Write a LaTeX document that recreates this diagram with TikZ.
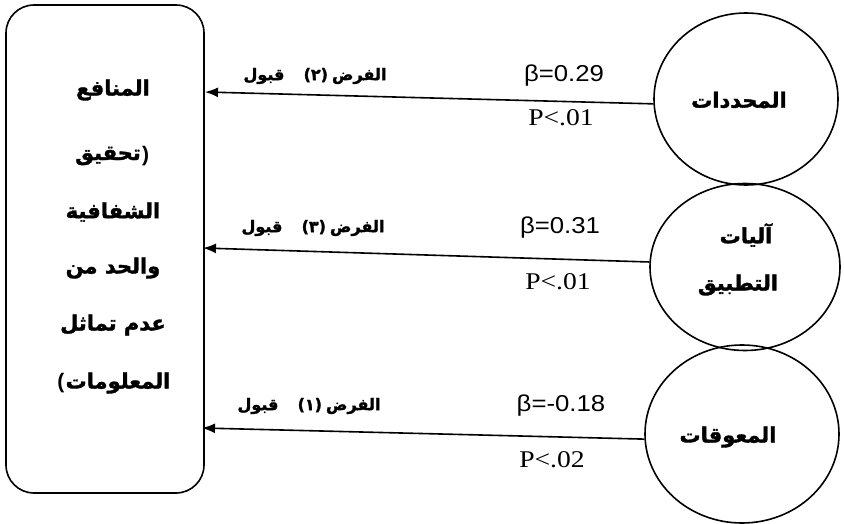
\documentclass[tikz,border=0pt]{standalone}
\usepackage{fontspec}
\usepackage{graphicx}
\setmainfont{Liberation Sans}
\newfontfamily\serf{Liberation Serif}
\newfontfamily\arabicfont[Script=Arabic, BoldFeatures={FakeBold=1.6}]{DejaVu Sans}
\TeXXeTstate=1
\usetikzlibrary{arrows.meta,shapes.geometric}
\newcommand\artxt[1]{\beginR #1\endR}
\tikzset{
  lw/.style={line width=1.6pt},
  boxline/.style={font=\arabicfont\bfseries\fontsize{21}{25}\selectfont, inner sep=0pt},
  parstyle/.style={font=\bfseries\fontsize{21}{25}\selectfont, inner sep=0pt, outer sep=0pt},
  circtext/.style={font=\arabicfont\bfseries\fontsize{21}{25}\selectfont, inner sep=0pt},
  hyp/.style={font=\arabicfont\bfseries\fontsize{16}{19}\selectfont, inner sep=0pt},
  beta/.style={font=\fontsize{23}{26}\selectfont, inner sep=0pt},
  pval/.style={font=\serf\fontsize{24}{27}\selectfont, inner sep=0pt},
  varc/.style={draw, lw, ellipse, inner sep=0pt},
  arr/.style={lw, -{Latex[length=13pt,width=10pt]}}
}
\begin{document}
\begin{tikzpicture}[x=1pt,y=-1pt]
\useasboundingbox (0,0) rectangle (844,524);
% outcome box
\node[draw, lw, rounded corners=28pt, minimum width=198pt, minimum height=488pt] (box) at (105,249) {};
\node[boxline] (b1) at (113,90) {\artxt{المنافع}};
\node[boxline] (b2) at (108,156) {\artxt{تحقيق}};
\node[parstyle, anchor=west] (b2p) at ([xshift=1pt]b2.east) {)};
\node[boxline] (b3) at (113,212) {\artxt{الشفافية}};
\node[boxline] (b4) at (113,268) {\artxt{والحد من}};
\node[boxline] (b5) at (113,325) {\artxt{عدم تماثل}};
\node[boxline] (b6) at (118,383) {\artxt{المعلومات}};
\node[parstyle, anchor=east] (b6p) at ([xshift=-1pt]b6.west) {(};
% predictor circles
\node[varc, minimum width=184pt, minimum height=172pt] (c1) at (746,99) {};
\node[circtext] (t1) at (739,100) {\artxt{المحددات}};
\node[varc, minimum width=190pt, minimum height=167pt] (c2) at (745,267) {};
\node[circtext] (t2a) at (746,235) {\artxt{آليات}};
\node[circtext] (t2b) at (738,285) {\artxt{التطبيق}};
\node[varc, minimum width=194pt, minimum height=178pt] (c3) at (742,434) {};
\node[circtext] (t3) at (728,437) {\artxt{المعوقات}};
% arrow end points on the box
\coordinate (e1) at (205,92);
\coordinate (e2) at (203,248);
\coordinate (e3) at (202,428);
\draw[arr] (c1.183) -- (e1);
\draw[arr] (c2.177) -- (e2);
\draw[arr] (c3.183) -- (e3);
% labels
\node[hyp] (h1) at (315,76) {\artxt{قبول}\hspace{1.2em}(٢)\hspace{0.25em}\artxt{الفرض}};
\node[hyp] (h2) at (313,228) {\artxt{قبول}\hspace{1.2em}(٣)\hspace{0.25em}\artxt{الفرض}};
\node[hyp] (h3) at (309,406) {\artxt{قبول}\hspace{1.2em}(١)\hspace{0.25em}\artxt{الفرض}};
\node[beta] (p1) at (564,76) {\scalebox{1.12}[1]{β=0.29}};
\node[pval] (q1) at (561,118) {\scalebox{1.15}[1]{P<.01}};
\node[beta] (p2) at (560,228) {\scalebox{1.12}[1]{β=0.31}};
\node[pval] (q2) at (558,282) {\scalebox{1.15}[1]{P<.01}};
\node[beta] (p3) at (561,406) {\scalebox{1.12}[1]{β=-0.18}};
\node[pval] (q3) at (552,460) {\scalebox{1.15}[1]{P<.02}};
\end{tikzpicture}
\end{document}
